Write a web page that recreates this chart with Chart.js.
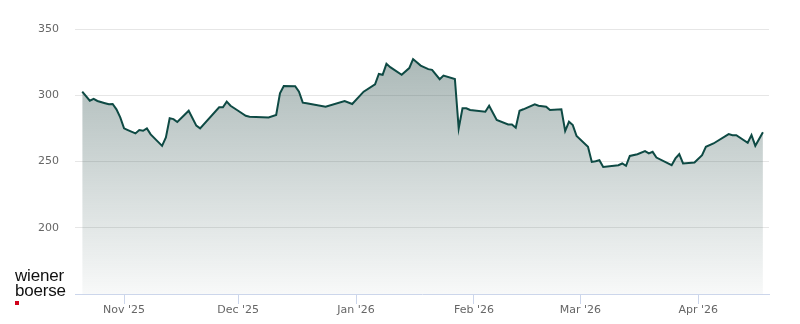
<!DOCTYPE html>
<html>
<head>
<meta charset="utf-8">
<script src="https://cdn.jsdelivr.net/npm/chart.js@4.4.1/dist/chart.umd.min.js"></script>
<style>
  html, body { margin: 0; padding: 0; background: #fff; }
  #wrap { position: relative; width: 800px; height: 324px; }
  .logo { position: absolute; left: 15px; font-family: "Liberation Sans", Arial, sans-serif; font-size: 17px; color: #111; line-height: 17px; letter-spacing: -0.2px; }
  #logo1 { top: 267px; }
  #logo2 { top: 282px; }
  #logoDot { position: absolute; left: 15px; top: 301px; width: 4px; height: 4px; background: #d0021b; }
</style>
</head>
<body>
<div id="wrap">
  <canvas id="chart" width="800" height="324"></canvas>
  <div class="logo" id="logo1">wiener</div>
  <div class="logo" id="logo2">boerse</div>
  <div id="logoDot"></div>
</div>
<script>
const dates = [
  "2025-10-21", "2025-10-23", "2025-10-24", "2025-10-25", "2025-10-27", "2025-10-28",
  "2025-10-29", "2025-10-30", "2025-10-31", "2025-11-01", "2025-11-02", "2025-11-04",
  "2025-11-05", "2025-11-06", "2025-11-07", "2025-11-08", "2025-11-11", "2025-11-12",
  "2025-11-13", "2025-11-14", "2025-11-15", "2025-11-18", "2025-11-20", "2025-11-21",
  "2025-11-26", "2025-11-27", "2025-11-28", "2025-11-29", "2025-12-01", "2025-12-03",
  "2025-12-04", "2025-12-09", "2025-12-11", "2025-12-12", "2025-12-13", "2025-12-16",
  "2025-12-17", "2025-12-18", "2025-12-19", "2025-12-24", "2025-12-29", "2025-12-31",
  "2026-01-03", "2026-01-06", "2026-01-07", "2026-01-08", "2026-01-09", "2026-01-10",
  "2026-01-13", "2026-01-15", "2026-01-16", "2026-01-18", "2026-01-20", "2026-01-21",
  "2026-01-23", "2026-01-24", "2026-01-27", "2026-01-28", "2026-01-29", "2026-01-30",
  "2026-01-31", "2026-02-04", "2026-02-05", "2026-02-07", "2026-02-10", "2026-02-11",
  "2026-02-12", "2026-02-13", "2026-02-14", "2026-02-17", "2026-02-18", "2026-02-20",
  "2026-02-21", "2026-02-24", "2026-02-25", "2026-02-26", "2026-02-27", "2026-02-28",
  "2026-03-03", "2026-03-04", "2026-03-05", "2026-03-06", "2026-03-07", "2026-03-11",
  "2026-03-12", "2026-03-13", "2026-03-14", "2026-03-16", "2026-03-18", "2026-03-19",
  "2026-03-20", "2026-03-21", "2026-03-25", "2026-03-26", "2026-03-27", "2026-03-28",
  "2026-03-31", "2026-04-02", "2026-04-03", "2026-04-05", "2026-04-09", "2026-04-10",
  "2026-04-11", "2026-04-14", "2026-04-15", "2026-04-16", "2026-04-18"
];

const prices = [
  302.7, 295.9, 297.2, 295.7, 294.0, 293.2,
  293.4, 289.4, 283.3, 275.0, 273.7, 271.2,
  273.7, 273.2, 275.0, 270.5, 261.8, 268.2,
  282.6, 282.0, 279.8, 288.3, 277.1, 275.0,
  290.9, 290.9, 295.2, 292.1, 288.3, 284.5,
  283.8, 283.3, 285.1, 301.5, 307.0, 306.8,
  302.7, 294.4, 293.9, 291.4, 295.7, 293.4,
  302.7, 308.3, 316.1, 315.4, 323.7, 321.2,
  315.4, 320.5, 327.3, 322.4, 319.7, 319.2,
  312.1, 314.8, 312.3, 275.0, 290.2, 290.2,
  288.9, 287.6, 292.1, 281.3, 278.0, 278.0,
  275.5, 288.3, 289.4, 293.2, 292.1, 291.4,
  288.9, 289.4, 273.0, 280.0, 277.5, 269.2,
  261.1, 249.7, 250.2, 251.0, 245.9, 247.2,
  248.5, 246.7, 254.2, 255.5, 257.8, 256.1,
  257.3, 253.0, 247.2, 252.3, 255.5, 248.5,
  249.2, 254.8, 261.1, 263.6, 270.7, 269.9,
  269.9, 264.1, 269.9, 261.8, 272.0
];

const monthTicks = ["2025-11-01", "2025-12-01", "2026-01-01", "2026-02-01", "2026-03-01", "2026-04-01"];
const monthLabels = ["Nov '25", "Dec '25", "Jan '26", "Feb '26", "Mar '26", "Apr '26"];

const yTicks = [150, 200, 250, 300, 350];

const lineColor = "#0e4a44";
const axisFont = { family: "'DejaVu Sans', sans-serif", size: 11 };

function dayOf(s) {
  return Date.parse(s + "T00:00:00Z") / 86400000;
}

const nov1 = dayOf("2025-11-01");

new Chart(document.getElementById("chart"), {
  type: "line",
  data: {
    datasets: [{
      data: dates.map((d, i) => ({ x: dayOf(d), y: prices[i] })),
      borderColor: lineColor,
      borderWidth: 2,
      pointRadius: 0,
      tension: 0,
      fill: "start",
      backgroundColor: (ctx) => {
        const area = ctx.chart.chartArea;
        if (!area) return "rgba(70,100,97,0.3)";
        const g = ctx.chart.ctx.createLinearGradient(0, area.top, 0, area.bottom);
        g.addColorStop(0, "rgba(70,100,97,0.50)");
        g.addColorStop(1, "rgba(70,100,97,0.04)");
        return g;
      }
    }]
  },
  options: {
    responsive: false,
    animation: false,
    devicePixelRatio: 1,
    layout: { padding: { top: 29, right: 31, left: 0, bottom: 0 } },
    plugins: { legend: { display: false }, tooltip: { enabled: false } },
    scales: {
      x: {
        type: "linear",
        min: nov1 - 12.9,
        max: nov1 + 169.6,
        afterBuildTicks: (scale) => {
          scale.ticks = monthTicks.map(d => ({ value: dayOf(d) }));
        },
        afterFit: (scale) => { scale.height = 30; },
        ticks: {
          autoSkip: false,
          maxRotation: 0,
          color: "#666666",
          font: axisFont,
          padding: 0,
          callback: (v) => {
            const i = monthTicks.findIndex(d => dayOf(d) === v);
            return i >= 0 ? monthLabels[i] : "";
          }
        },
        grid: {
          drawOnChartArea: false,
          drawTicks: true,
          tickLength: 10,
          tickColor: "#ccd6eb",
          lineWidth: 1
        },
        border: { display: true, color: "#ccd6eb", width: 1 }
      },
      y: {
        min: 150,
        max: 350,
        afterBuildTicks: (scale) => {
          scale.ticks = yTicks.map(v => ({ value: v }));
        },
        afterFit: (scale) => { scale.width = 75; },
        ticks: {
          color: "#666666",
          font: axisFont,
          padding: 16,
          callback: (v) => (v === 150 ? "" : v)
        },
        grid: {
          drawTicks: false,
          color: (ctx) => (ctx.tick && ctx.tick.value === 150 ? "rgba(0,0,0,0)" : "#e6e6e6")
        },
        border: { display: false }
      }
    }
  }
});
</script>
</body>
</html>
